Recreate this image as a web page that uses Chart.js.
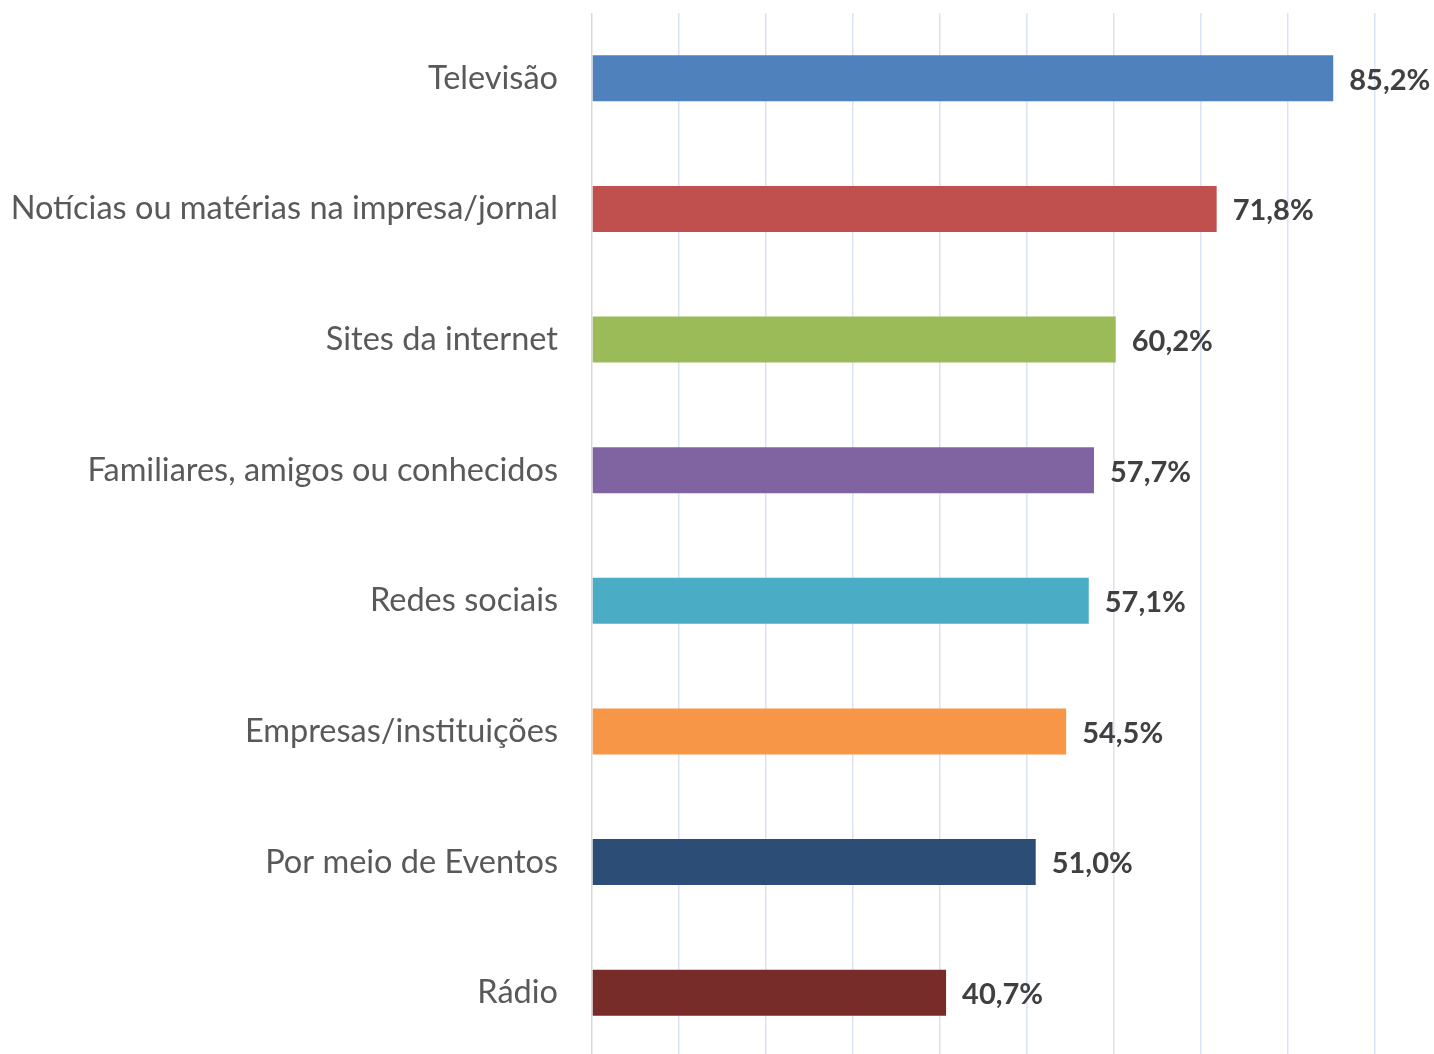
<!DOCTYPE html>
<html>
<head>
<meta charset="utf-8">
<script src="https://cdn.jsdelivr.net/npm/chart.js@4"></script>
<style>
html,body{margin:0;padding:0;background:#fff;overflow:hidden;}
#wrap{width:1434px;height:1060px;position:relative;}
</style>
</head>
<body>
<div id="wrap"><canvas id="c"></canvas></div>
<script>
const categories = ["Televisão","Notícias ou matérias na impresa/jornal","Sites da internet","Familiares, amigos ou conhecidos","Redes sociais","Empresas/instituições","Por meio de Eventos","Rádio"];
const values = [85.2,71.8,60.2,57.7,57.1,54.5,51.0,40.7];
const valueLabels = ["85,2%","71,8%","60,2%","57,7%","57,1%","54,5%","51,0%","40,7%"];
const barColors = ["#4F81BD","#C0504D","#9BBB59","#8064A2","#4BACC6","#F79646","#2C4D75","#772C2A"];

const labelPlugin = {
  id: 'valueLabels',
  afterDatasetsDraw(chart) {
    const ctx = chart.ctx;
    const meta = chart.getDatasetMeta(0);
    ctx.save();
    ctx.font = 'bold 29px Lato';
    ctx.fillStyle = '#404040';
    ctx.textAlign = 'left';
    ctx.textBaseline = 'middle';
    meta.data.forEach((bar, i) => {
      ctx.fillText(valueLabels[i], bar.x + 16, bar.y + 2);
    });
    ctx.restore();
  }
};

new Chart(document.getElementById('c'), {
  type: 'bar',
  data: {
    labels: categories,
    datasets: [{
      data: values,
      backgroundColor: barColors,
      borderWidth: 0,
      barPercentage: 0.352,
      categoryPercentage: 1.0
    }]
  },
  options: {
    indexAxis: 'y',
    responsive: true,
    maintainAspectRatio: false,
    animation: false,
    layout: { padding: { top: 13, right: 59, bottom: 2, left: 0 } },
    plugins: { legend: { display: false }, tooltip: { enabled: false } },
    scales: {
      x: {
        min: 0, max: 90,
        ticks: { display: false, stepSize: 10 },
        border: { display: false },
        grid: {
          drawTicks: false,
          lineWidth: 1.5,
          color: (c) => c.tick && c.tick.value === 0 ? '#D9D9D9' : '#DAE3F3'
        },
        afterFit(s) { s.height = 0; s.paddingLeft = 0; s.paddingRight = 0; }
      },
      y: {
        ticks: {
          color: '#595959',
          font: { family: 'Lato', size: 32.5 },
          padding: 34
        },
        grid: { display: false, drawTicks: false },
        border: { display: false },
        afterFit(s) { s.width = 592; s.paddingTop = 0; s.paddingBottom = 0; }
      }
    }
  },
  plugins: [labelPlugin]
});
</script>
</body>
</html>
